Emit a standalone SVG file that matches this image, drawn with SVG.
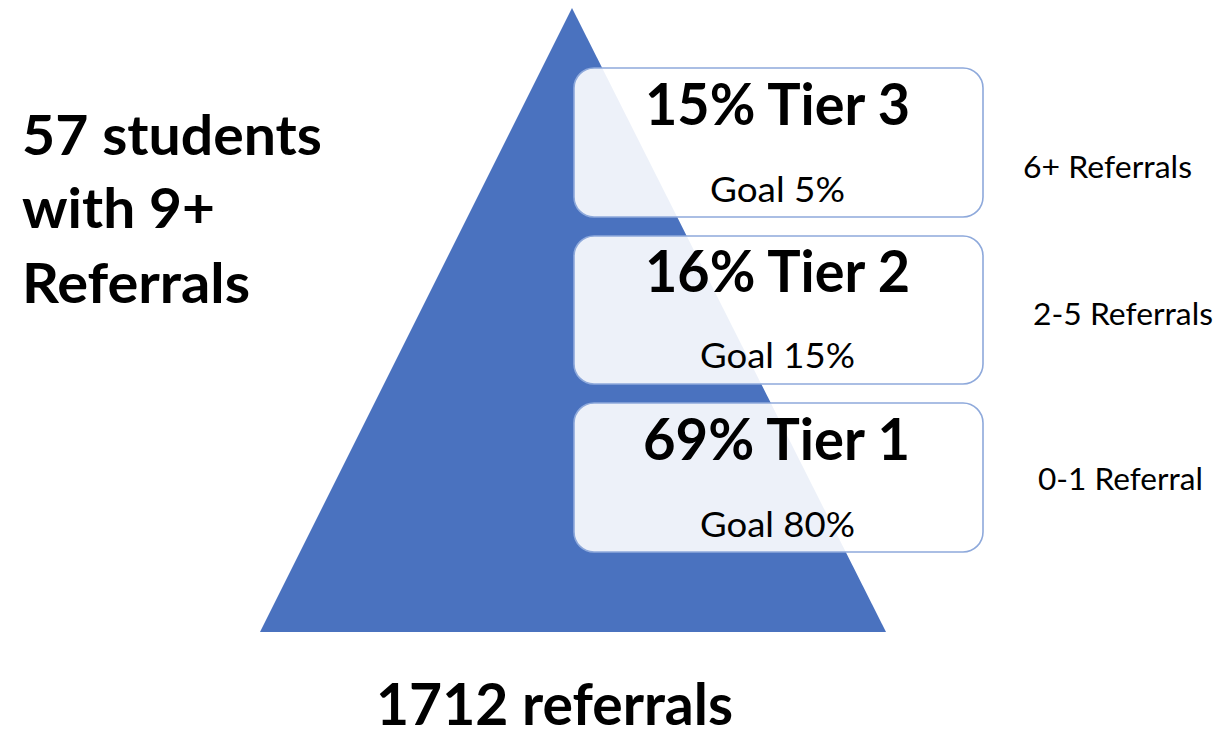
<svg xmlns="http://www.w3.org/2000/svg" width="1216" height="731" viewBox="0 0 1216 731">
  <style>
    .t { font-family: Lato, "Liberation Sans", sans-serif; fill: #000; }
    .b { font-weight: bold; }
    .tier { fill: #ffffff; fill-opacity: 0.9; stroke: #8EA9DB; stroke-width: 1.6; }
  </style>
  <rect width="1216" height="731" fill="#ffffff"/>

  <!-- pyramid -->
  <g id="pyramid">
    <polygon points="572,8 886,632 260,632" fill="#4A72BF"/>
  </g>

  <!-- left caption -->
  <g id="caption-left">
    <text class="t b" x="22" y="155" font-size="55" textLength="300" lengthAdjust="spacingAndGlyphs">57 students</text>
    <text class="t b" x="22" y="228" font-size="55" textLength="193" lengthAdjust="spacingAndGlyphs">with 9+</text>
    <text class="t b" x="22" y="303" font-size="55" textLength="228" lengthAdjust="spacingAndGlyphs">Referrals</text>
  </g>

  <!-- tier boxes -->
  <g id="tier3">
    <rect class="tier" x="574" y="68" width="409" height="149" rx="20"/>
    <text class="t b" x="645" y="125" font-size="58" textLength="265" lengthAdjust="spacingAndGlyphs">15% Tier 3</text>
    <text class="t" x="710" y="202" font-size="34" textLength="135" lengthAdjust="spacingAndGlyphs">Goal 5%</text>
  </g>
  <g id="tier2">
    <rect class="tier" x="574" y="236" width="409" height="148" rx="20"/>
    <text class="t b" x="645" y="292" font-size="58" textLength="265" lengthAdjust="spacingAndGlyphs">16% Tier 2</text>
    <text class="t" x="700" y="368" font-size="34" textLength="155" lengthAdjust="spacingAndGlyphs">Goal 15%</text>
  </g>
  <g id="tier1">
    <rect class="tier" x="574" y="403" width="409" height="149" rx="20"/>
    <text class="t b" x="643" y="460" font-size="58" textLength="267" lengthAdjust="spacingAndGlyphs">69% Tier 1</text>
    <text class="t" x="700" y="537" font-size="34" textLength="155" lengthAdjust="spacingAndGlyphs">Goal 80%</text>
  </g>

  <!-- referral ranges -->
  <g id="ranges">
    <text class="t" x="1023" y="178" font-size="30" textLength="169" lengthAdjust="spacingAndGlyphs">6+ Referrals</text>
    <text class="t" x="1033" y="325" font-size="30" textLength="180" lengthAdjust="spacingAndGlyphs">2-5 Referrals</text>
    <text class="t" x="1038" y="490" font-size="30" textLength="165" lengthAdjust="spacingAndGlyphs">0-1 Referral</text>
  </g>

  <!-- total -->
  <g id="total">
    <text class="t b" x="376" y="725" font-size="58" textLength="357" lengthAdjust="spacingAndGlyphs">1712 referrals</text>
  </g>

  <g id="connectors"/>
</svg>
